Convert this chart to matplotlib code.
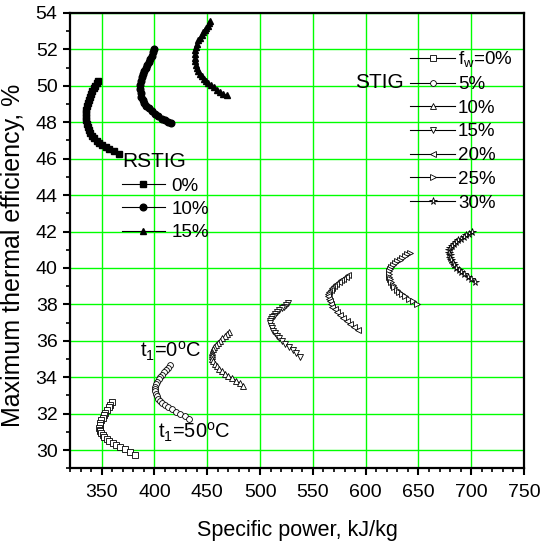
import matplotlib
matplotlib.use("Agg")
import matplotlib.pyplot as plt
from matplotlib.ticker import MultipleLocator

plt.rcParams['font.family'] = ['Liberation Sans', 'DejaVu Sans']
plt.rcParams['mathtext.fontset'] = 'custom'
plt.rcParams['mathtext.rm'] = 'Liberation Sans'
plt.rcParams['mathtext.it'] = 'Liberation Sans:italic'

# STIG curves, t1 from 0 C (top) to 50 C (bottom end)
stig_labels = ["f$_{\\rm w}$=0%", "5%", "10%", "15%", "20%", "25%", "30%"]
stig_markers = ["s", "o", "^", "v", "<", ">", "*"]

stig0_x = [359.5, 358.0, 356.5, 355.0, 353.5, 352.1, 350.8, 349.7, 348.8, 348.2, 347.9,
           348.0, 348.4, 349.4, 350.8, 352.6, 354.8, 357.4, 360.4, 363.8, 367.6, 371.8, 376.5, 381.6]
stig0_y = [32.62, 32.48, 32.34, 32.20, 32.06, 31.92, 31.78, 31.63, 31.49, 31.35, 31.21,
           31.12, 31.06, 30.96, 30.85, 30.74, 30.63, 30.52, 30.41, 30.30, 30.18, 30.05, 29.89, 29.72]

stig5_x = [414.7, 412.8, 410.9, 409.0, 407.2, 405.5, 404.0, 402.7, 401.6, 400.9, 400.5,
           400.7, 401.3, 402.3, 403.6, 405.3, 407.4, 409.9, 412.8, 416.2, 420.1, 424.3, 428.5, 432.7]
stig5_y = [34.66, 34.53, 34.40, 34.27, 34.14, 34.01, 33.88, 33.75, 33.62, 33.49, 33.36,
           33.22, 33.08, 32.95, 32.82, 32.71, 32.60, 32.49, 32.37, 32.24, 32.11, 31.98, 31.85, 31.73]

stig10_x = [470.9, 468.7, 466.5, 464.3, 462.2, 460.2, 458.4, 456.8, 455.5, 454.6, 454.2,
            454.3, 454.9, 455.9, 457.3, 459.1, 461.3, 463.9, 466.8, 470.0, 473.5, 477.3, 480.8, 484.2]
stig10_y = [36.49, 36.37, 36.25, 36.13, 36.01, 35.89, 35.77, 35.65, 35.53, 35.41, 35.29,
            35.15, 35.01, 34.87, 34.73, 34.59, 34.46, 34.33, 34.20, 34.07, 33.94, 33.81, 33.66, 33.50]

stig15_x = [526.8, 524.7, 522.6, 520.5, 518.4, 516.4, 514.5, 512.8, 511.4, 510.3, 509.7,
            509.8, 510.3, 511.1, 512.3, 513.9, 515.9, 518.3, 521.0, 524.0, 527.3, 530.8, 534.3, 537.8]
stig15_y = [38.08, 37.98, 37.88, 37.78, 37.68, 37.58, 37.48, 37.38, 37.28, 37.18, 37.08,
            36.95, 36.82, 36.69, 36.56, 36.43, 36.28, 36.13, 35.97, 35.82, 35.67, 35.52, 35.33, 35.12]

stig20_x = [583.6, 581.3, 579.0, 576.7, 574.4, 572.2, 570.2, 568.4, 566.8, 565.5, 564.8,
            564.6, 565.0, 565.8, 567.0, 568.6, 570.6, 573.0, 575.7, 578.7, 582.0, 585.6, 589.3, 593.1]
stig20_y = [39.60, 39.51, 39.42, 39.32, 39.22, 39.12, 39.02, 38.91, 38.80, 38.69, 38.58,
            38.44, 38.30, 38.16, 38.02, 37.88, 37.74, 37.58, 37.42, 37.26, 37.10, 36.94, 36.78, 36.62]

stig25_x = [642.0, 639.6, 637.2, 634.8, 632.4, 630.1, 628.0, 626.1, 624.4, 623.1, 622.4,
            622.2, 622.5, 623.1, 624.1, 625.5, 627.3, 629.4, 631.8, 634.5, 637.5, 640.9, 644.6, 648.4]
stig25_y = [40.83, 40.74, 40.65, 40.56, 40.46, 40.36, 40.26, 40.16, 40.05, 39.94, 39.83,
            39.68, 39.52, 39.37, 39.22, 39.07, 38.93, 38.81, 38.69, 38.57, 38.44, 38.31, 38.17, 38.01]

stig30_x = [700.5, 697.9, 695.3, 692.7, 690.2, 687.8, 685.6, 683.6, 681.8, 680.3, 679.4,
            679.2, 679.5, 680.2, 681.2, 682.5, 684.1, 686.0, 688.2, 690.6, 693.3, 696.6, 700.1, 703.6]
stig30_y = [41.98, 41.89, 41.80, 41.71, 41.61, 41.51, 41.41, 41.30, 41.19, 41.08, 40.97,
            40.84, 40.70, 40.56, 40.42, 40.28, 40.15, 40.02, 39.90, 39.78, 39.66, 39.53, 39.39, 39.24]

# RSTIG curves
rstig_labels = ["0%", "10%", "15%"]
rstig_markers = ["s", "o", "^"]

rstig0_x = [346.8, 345.4, 344.0, 342.6, 341.3, 340.0, 338.9, 337.9, 337.0, 336.2, 335.6, 335.2,
            335.1, 335.3, 335.8, 336.6, 337.7, 339.1, 340.8, 342.8, 345.1, 347.7, 350.6, 353.8,
            357.3, 361.5, 366.7]
rstig0_y = [50.28, 50.15, 50.01, 49.86, 49.71, 49.55, 49.39, 49.23, 49.06, 48.88, 48.69, 48.49,
            48.30, 48.11, 47.92, 47.74, 47.57, 47.41, 47.26, 47.12, 46.99, 46.87, 46.76, 46.65,
            46.54, 46.41, 46.25]

rstig10_x = [399.6, 398.4, 397.2, 395.9, 394.6, 393.2, 391.8, 390.4, 389.1, 387.9, 386.9, 386.3,
             386.4, 386.8, 387.6, 388.8, 390.4, 392.4, 394.8, 397.5, 400.5, 403.6, 406.7, 409.6,
             412.5, 415.4]
rstig10_y = [52.00, 51.83, 51.66, 51.48, 51.30, 51.13, 50.96, 50.80, 50.65, 50.50, 50.28, 50.02,
             49.80, 49.60, 49.41, 49.23, 49.06, 48.91, 48.77, 48.62, 48.47, 48.33, 48.20, 48.10,
             48.03, 47.98]

rstig15_x = [452.6, 451.5, 450.3, 449.0, 447.6, 446.1, 444.6, 443.1, 441.7, 440.5, 439.5, 438.8,
             438.4, 438.5, 438.7, 439.3, 440.2, 441.4, 442.9, 444.6, 446.5, 448.6, 450.9, 453.4,
             456.1, 459.0, 462.0, 465.2, 468.4]
rstig15_y = [53.55, 53.43, 53.31, 53.19, 53.07, 52.94, 52.80, 52.65, 52.49, 52.32, 52.14, 51.95,
             51.75, 51.55, 51.35, 51.16, 50.98, 50.81, 50.66, 50.52, 50.39, 50.27, 50.15, 50.03,
             49.91, 49.78, 49.66, 49.56, 49.47]

stig_x = [stig0_x, stig5_x, stig10_x, stig15_x, stig20_x, stig25_x, stig30_x]
stig_y = [stig0_y, stig5_y, stig10_y, stig15_y, stig20_y, stig25_y, stig30_y]
rstig_x = [rstig0_x, rstig10_x, rstig15_x]
rstig_y = [rstig0_y, rstig10_y, rstig15_y]

fig = plt.figure(figsize=(5.41, 5.43), dpi=100)
ax = fig.add_axes([0.1294, 0.1376, 0.8392, 0.8385])

stig_handles = []
for xs, ys, m, lab in zip(stig_x, stig_y, stig_markers, stig_labels):
    ms = 5.5 if m == "*" else 4.2
    h, = ax.plot(xs, ys, color="black", lw=0.8, marker=m, ms=ms, mfc="white",
                 mec="black", mew=0.6, label=lab)
    stig_handles.append(h)

rstig_handles = []
for xs, ys, m, lab in zip(rstig_x, rstig_y, rstig_markers, rstig_labels):
    h, = ax.plot(xs, ys, color="black", lw=0.8, marker=m, ms=4.8, mfc="black",
                 mec="black", label=lab)
    rstig_handles.append(h)

ax.set_xlim(320, 750)
ax.set_ylim(29, 54)
ax.xaxis.set_major_locator(MultipleLocator(50))
ax.xaxis.set_minor_locator(MultipleLocator(10))
ax.yaxis.set_major_locator(MultipleLocator(2))
ax.yaxis.set_minor_locator(MultipleLocator(1))
ax.set_xticks(range(350, 751, 50))
ax.grid(True, which="major", color="#00ff00", lw=1.0)
ax.set_axisbelow(True)
ax.tick_params(which="major", direction="out", length=5, width=1.5, labelsize=14,
               pad=6, top=False, right=False)
ax.tick_params(which="minor", direction="out", length=3, width=1.2, top=False, right=False)
ax.tick_params(axis="y", which="major", pad=4)
for s in ax.spines.values():
    s.set_linewidth(1.6)

ax.set_xlabel("Specific power, kJ/kg", fontsize=15.5, labelpad=14)
ax.set_ylabel("Maximum thermal efficiency, %", fontsize=18)
ax.yaxis.set_label_coords(-0.1, 0.468)

leg1 = ax.legend(handles=stig_handles, loc="upper left", bbox_to_anchor=(0.749, 0.92),
                 frameon=False, fontsize=13.5, handlelength=2.4, handletextpad=0.15,
                 labelspacing=0.35, borderpad=0, borderaxespad=0)
ax.add_artist(leg1)
ax.text(0.628, 0.848, "STIG", transform=ax.transAxes, fontsize=15, va="center", ha="left")

leg2 = ax.legend(handles=rstig_handles, loc="upper left", bbox_to_anchor=(0.114, 0.694),
                 frameon=False, fontsize=13.5, handlelength=2.3, handletextpad=0.35,
                 labelspacing=0.33, borderpad=0, borderaxespad=0, title="RSTIG",
                 title_fontsize=15, alignment="left")

ax.text(386.3, 35.4, "t$_{\\rm 1}$=0$^{\\rm o}$C", fontsize=14.5, va="center", ha="left")
ax.text(403, 31.0, "t$_{\\rm 1}$=50$^{\\rm o}$C", fontsize=14.5, va="center", ha="left")

fig.savefig("out.png", dpi=100)
